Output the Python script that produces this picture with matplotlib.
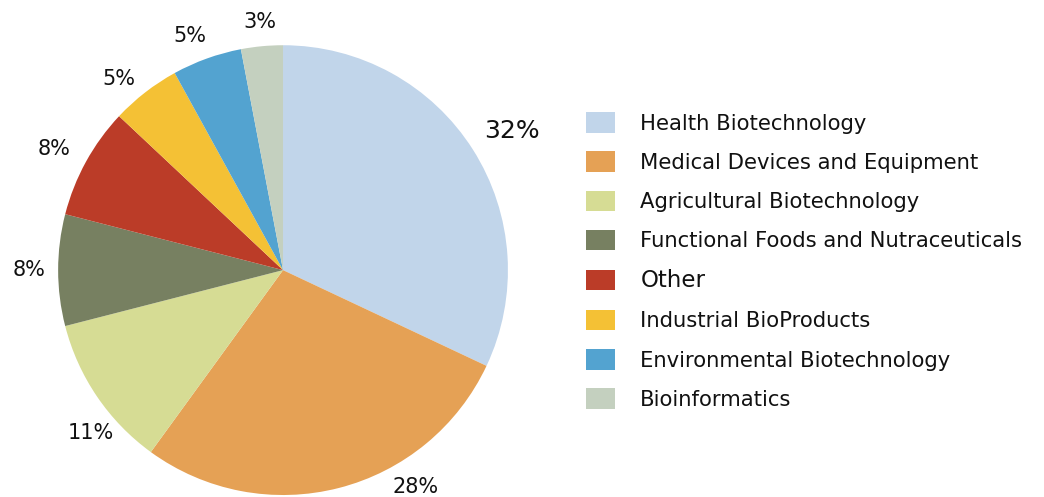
import numpy as np
import matplotlib.pyplot as plt
from matplotlib.patches import Patch

# Data
categories = ['Health Biotechnology', 'Medical Devices and Equipment', 'Agricultural Biotechnology',
              'Functional Foods and Nutraceuticals', 'Other', 'Industrial BioProducts',
              'Environmental Biotechnology', 'Bioinformatics']
shares = [32, 28, 11, 8, 8, 5, 5, 3]
colors = ['#c1d5ea', '#e5a155', '#d6dc94', '#778061', '#bb3c28', '#f4c135', '#53a3d0', '#c4d0bf']

# label placement tweaks (degrees shift from wedge middle, radial distance)
label_shift = [-1, 17, 6, 0, 1, 3, 2, 0]
label_dist = [1.19, 1.13, 1.12, 1.13, 1.15, 1.12, 1.12, 1.11]

fig = plt.figure(figsize=(10.44, 4.97), dpi=100)
ax = fig.add_axes([0.0556, 0.004, 0.431, 0.905])

wedges, _ = ax.pie(shares, colors=colors, startangle=90, counterclock=False)
for i, w in enumerate(wedges):
    ang = np.deg2rad((w.theta1 + w.theta2) / 2 + label_shift[i])
    ax.text(label_dist[i] * np.cos(ang), label_dist[i] * np.sin(ang), f'{shares[i]}%',
            ha='center', va='center', fontsize=18 if i == 0 else 15, color='#111111')
ax.set_xlim(-1, 1)
ax.set_ylim(-1, 1)
ax.set_aspect('equal')

handles = [Patch(facecolor=c, edgecolor='none') for c in colors]
leg = fig.legend(handles, categories, loc='center left', bbox_to_anchor=(0.561, 0.475),
                 frameon=False, fontsize=15.2, borderpad=0, borderaxespad=0,
                 handlelength=1.41, handleheight=1.13, handletextpad=1.18, labelspacing=0.84)
for t in leg.get_texts():
    t.set_color('#111111')
leg.get_texts()[4].set_fontsize(16.5)

fig.savefig('out.png', dpi=100)
